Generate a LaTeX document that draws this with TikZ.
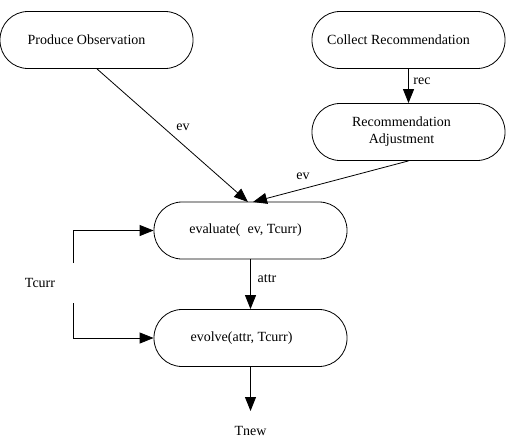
\documentclass[tikz,border=0pt]{standalone}
\usepackage{fontspec}
\setmainfont{Liberation Serif}
\usetikzlibrary{arrows.meta}
\begin{document}
\begin{tikzpicture}[x=1pt,y=-1pt,
  proc/.style={draw, line width=0.8pt, rounded corners=28pt, minimum width=193pt, minimum height=57pt, inner sep=0pt, align=center, font=\fontsize{14}{17}\selectfont},
  lbl/.style={inner sep=0pt, font=\fontsize{14}{17}\selectfont},
  conn/.style={line width=0.8pt, -{Triangle[length=14pt,width=11pt]}}]
\useasboundingbox (0,0) rectangle (510,442);
\node[proc] (po) at (96.5,40) {Produce Observation\kern20pt};
\node[proc] (cr) at (408.5,40) {Collect Recommendation\kern20pt};
\node[proc] (ra) at (408.5,132) {Recommendation\kern14pt\\Adjustment\kern14pt};
\node[proc] (ev) at (250.5,230.5) {evaluate(\ \ ev, Tcurr)\kern10pt};
\node[proc] (eo) at (250.5,338) {evolve(attr, Tcurr)\kern18pt};
\coordinate (evin1) at (248,202);
\coordinate (evin2) at (253,202);
\coordinate (la) at (73,263);
\coordinate (lb) at (73,303);
\coordinate (tip) at (250.5,411);
\node[lbl] (l1) at (183,127) {ev};
\node[lbl] (l2) at (303,176) {ev};
\node[lbl] (l3) at (422,81) {rec};
\node[lbl] (l4) at (267,279) {attr};
\node[lbl] (tcurr) at (40,283) {Tcurr};
\node[lbl] (tnew) at (250.5,431) {Tnew};
\draw[conn] (po.south) ++(0.5,0) -- (evin1);
\draw[conn] (ra.south) -- (evin2);
\draw[conn] (cr.south) -- (ra.north);
\draw[conn] (ev.south) -- (eo.north);
\draw[conn] (la) |- (ev.west);
\draw[conn] (lb) |- (eo.west);
\draw[conn] (eo.south) -- (tip);
\end{tikzpicture}
\end{document}
